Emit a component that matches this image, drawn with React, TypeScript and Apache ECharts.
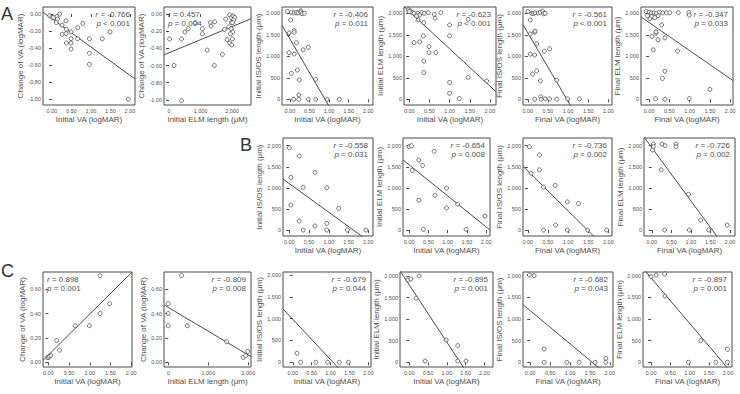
import React, { useEffect, useRef } from "react";
import * as echarts from "echarts";

// ---- tick values ----
const vaTicks = [0, 0.5, 1, 1.5, 2];
const lengthTicks = [0, 500, 1000, 1500, 2000];
const elmTicks = [0, 1000, 2000];
const changeTicksA = [0, -0.2, -0.4, -0.6, -0.8, -1.0];
const changeTicksC = [0, 0.2, 0.4, 0.6];

// ---- panel A: all eyes ----
const a1Points = [[-0.06,-0.02],[0.0,-0.04],[0.04,-0.04],[0.13,-0.03],[0.2,0.0],[0.14,-0.06],[0.11,-0.1],[0.36,-0.08],[0.26,-0.13],[0.37,-0.18],[0.26,-0.24],[0.36,-0.23],[0.49,-0.21],[0.66,-0.16],[0.79,-0.11],[0.37,-0.34],[0.49,-0.29],[0.49,-0.34],[0.49,-0.41],[0.66,-0.29],[0.96,-0.29],[0.96,-0.46],[0.96,-0.59],[1.29,-0.29],[1.49,-0.21],[1.96,-1.0]];
const a2Points = [[20,-0.29],[160,-0.6],[400,-0.29],[505,-0.21],[610,-0.17],[840,-0.1],[1060,-0.17],[1060,-0.23],[1210,-0.42],[1315,-0.1],[1335,-0.14],[1450,-0.09],[1440,-0.6],[1695,-0.47],[1760,-0.18],[1800,-0.06],[1925,-0.01],[1980,-0.04],[2030,-0.02],[2085,-0.04],[2050,-0.07],[1980,-0.1],[1895,-0.15],[1970,-0.17],[2020,-0.21],[1950,-0.23],[2010,-0.29],[1925,-0.34],[1990,-0.36],[1840,-0.3],[2020,-0.1],[400,-1.01]];
const a3Points = [[-0.06,2040],[0.04,2025],[0.11,2010],[0.17,2015],[0.21,2010],[0.28,2060],[0.28,2030],[0.31,1990],[0.37,2000],[0.02,1845],[0.11,1600],[0.11,1560],[-0.02,1540],[0.17,1315],[-0.02,1085],[0.11,1055],[0.34,1150],[0.47,1210],[0.04,605],[0.19,680],[0.24,450],[0.66,465],[0.1,0],[0.23,100],[0.23,0],[0.47,0],[0.66,0],[0.95,0],[1.26,0]];
const a4Points = [[-0.02,2080],[0.03,2055],[0.08,2015],[0.16,1960],[0.21,2000],[0.26,1960],[0.31,2015],[0.37,2000],[0.47,2015],[0.62,1975],[0.78,2015],[0.64,1885],[0.22,1845],[0.36,1785],[0.12,1320],[0.26,1335],[0.35,1475],[0.49,1225],[0.49,1085],[0.36,890],[0.36,620],[0.66,1085],[1.0,1730],[1.0,1475],[1.0,390],[1.0,140],[1.46,510],[1.92,425],[1.24,15],[1.46,1860],[0.0,2040],[0.12,2000],[0.18,1940]];
const a5Points = [[0.0,2040],[0.1,2000],[0.14,2000],[0.18,2010],[0.26,2010],[0.31,2025],[0.37,2050],[0.39,1990],[0.43,2000],[0.06,1845],[0.06,1520],[0.17,1560],[0.18,1585],[0.22,1290],[0.41,1120],[0.54,1175],[0.06,1050],[0.17,1030],[0.12,585],[0.22,660],[0.31,430],[0.72,445],[0.17,0],[0.32,60],[0.33,0],[0.43,10],[0.54,10],[0.72,0],[0.99,10],[1.28,10]];
const a6Points = [[-0.07,2040],[0.0,2025],[0.06,2010],[0.12,2010],[0.18,2000],[0.26,2025],[0.34,2010],[0.43,2010],[0.51,2015],[-0.04,1945],[0.06,1925],[0.14,1900],[0.22,1945],[0.72,2015],[0.98,2020],[0.99,1960],[0.02,1870],[0.31,1730],[0.07,1460],[0.17,1540],[0.17,1570],[0.22,1385],[0.39,1430],[0.1,1150],[0.7,1120],[0.33,485],[0.39,655],[0.16,15],[0.39,0],[0.99,15],[1.5,230]];

// ---- panel B ----
const b3Points = [[0.0,1950],[0.04,1250],[0.04,593],[0.25,1755],[0.35,1012],[0.25,213],[0.35,0],[0.65,1368],[0.65,95],[0.95,1004],[0.95,158],[0.95,0],[1.25,514],[1.47,0],[1.94,0]];
const b4Points = [[0.0,1976],[0.06,2000],[0.08,1412],[0.25,1663],[0.35,1530],[0.25,706],[0.37,16],[0.65,1867],[0.67,824],[0.97,996],[0.97,525],[1.26,612],[1.48,16],[1.97,330]];
const b5Points = [[0.04,1976],[0.08,1349],[0.29,1780],[0.29,1427],[0.39,1020],[0.39,0],[0.68,1059],[0.69,118],[0.98,667],[0.98,0],[1.26,627],[1.49,0],[1.96,0]];
const b6Points = [[0.04,2040],[0.04,1976],[0.26,2040],[0.34,2000],[0.62,2040],[0.62,1976],[0.02,1898],[0.24,1427],[0.33,0],[0.94,847],[0.96,0],[1.25,235],[1.46,0],[1.93,118]];

// ---- panel C ----
const c1Points = [[-0.02,0.04],[0.0,0.04],[0.02,0.05],[0.06,0.055],[0.2,0.18],[0.27,0.1],[0.65,0.3],[0.99,0.3],[1.25,0.4],[1.25,0.71],[1.48,0.48]];
const c2Points = [[0,0.48],[0,0.4],[0,0.3],[333,0.71],[475,0.3],[1458,0.17],[1875,0.04],[1933,0.055],[1983,0.09]];
const c3Points = [[0.11,206],[0.21,0],[0.61,0],[0.92,0],[1.23,0],[1.47,0]];
const c4Points = [[-0.04,1907],[0.04,1931],[0.26,2000],[0.18,1483],[0.42,30],[0.98,517],[1.29,386],[1.29,30],[1.51,30]];
const c5Points = [[-0.02,2015],[0.1,2000],[0.35,308],[0.35,0],[0.92,0],[1.23,0],[1.63,0],[1.9,92],[1.9,0]];
const c6Points = [[0.0,1977],[0.13,2015],[0.35,2040],[0.36,1530],[1.29,500],[0.97,0],[1.68,0],[1.98,300],[1.98,0]];

// fitted lines: [intercept, slope]
const fits = {
  a1: [-0.055, -0.332], a2: [-0.451, 0.000152], a3: [1407, -1571], a4: [2044, -869], a5: [1545, -1596], a6: [1785, -652],
  b3: [1100, -679], b4: [1545, -736], b5: [1399, -945], b6: [1954, -1262],
  c1: [0.06, 0.336], c2: [0.45, -0.000195], c3: [983, -923], c4: [1789, -1323], c5: [1193, -765], c6: [1947, -1047],
};

// correlation labels: [r, p-text]
const stats = {
  a1: ["-0.766", "< 0.001"], a2: ["0.457", "= 0.004"], a3: ["-0.406", "= 0.011"], a4: ["-0.623", "< 0.001"], a5: ["-0.561", "< 0.001"], a6: ["-0.347", "= 0.033"],
  b3: ["-0.558", "= 0.031"], b4: ["-0.654", "= 0.008"], b5: ["-0.736", "= 0.002"], b6: ["-0.726", "= 0.002"],
  c1: ["0.898", "= 0.001"], c2: ["-0.809", "= 0.008"], c3: ["-0.679", "= 0.044"], c4: ["-0.895", "= 0.001"], c5: ["-0.682", "= 0.043"], c6: ["-0.897", "= 0.001"],
};

const initVA = "Initial VA (logMAR)";
const finalVA = "Final VA (logMAR)";
const changeVA = "Change of VA (logMAR)";
const initISOS = "Initial IS/OS length (\u03bcm)";
const initELM = "Initial ELM length (\u03bcm)";
const finalISOS = "Final IS/OS length (\u03bcm)";
const finalELM = "Final ELM length (\u03bcm)";

const FONT = "'Liberation Sans Narrow', 'Arial Narrow', 'Liberation Sans', Arial, sans-serif";
const INK = "#4a4a4a";
const TEXT = "#505050";

const fmtVA = (v: number) => v.toFixed(2);
const fmtLen = (v: number) => v.toLocaleString("en-US");

type Panel = {
  key: string;
  points: number[][];
  box: [number, number, number, number]; // left, top, right, bottom
  x: [number, number];
  y: [number, number];
  xTicks: number[];
  yTicks: number[];
  xFmt: (v: number) => string;
  yFmt: (v: number) => string;
  xName: string;
  yName: string;
  statsLeft?: boolean;
};

const panels: Panel[] = [
  { key: "a1", points: a1Points, box: [43, 7, 135, 105], x: [-0.23, 2.13], y: [-1.067, 0.082], xTicks: vaTicks, yTicks: changeTicksA, xFmt: fmtVA, yFmt: fmtVA, xName: initVA, yName: changeVA },
  { key: "a2", points: a2Points, box: [164, 7, 251, 105], x: [-159, 2603], y: [-1.06, 0.082], xTicks: elmTicks, yTicks: changeTicksA, xFmt: fmtLen, yFmt: fmtVA, xName: "Initial ELM length (\u03bcM)", yName: changeVA, statsLeft: true },
  { key: "a3", points: a3Points, box: [282, 7, 373, 105], x: [-0.2, 2.12], y: [-133, 2147], xTicks: vaTicks, yTicks: lengthTicks, xFmt: fmtVA, yFmt: fmtLen, xName: initVA, yName: initISOS },
  { key: "a4", points: a4Points, box: [404, 7, 496, 105], x: [-0.13, 2.15], y: [-133, 2147], xTicks: vaTicks, yTicks: lengthTicks, xFmt: fmtVA, yFmt: fmtLen, xName: initVA, yName: initELM },
  { key: "a5", points: a5Points, box: [523, 7, 612, 105], x: [-0.12, 2.09], y: [-133, 2147], xTicks: vaTicks, yTicks: lengthTicks, xFmt: fmtVA, yFmt: fmtLen, xName: finalVA, yName: finalISOS },
  { key: "a6", points: a6Points, box: [641, 7, 733, 105], x: [-0.2, 2.07], y: [-133, 2147], xTicks: vaTicks, yTicks: lengthTicks, xFmt: fmtVA, yFmt: fmtLen, xName: finalVA, yName: finalELM },

  { key: "b3", points: b3Points, box: [283, 138, 373, 236], x: [-0.16, 2.12], y: [-142, 2183], xTicks: vaTicks, yTicks: lengthTicks, xFmt: fmtVA, yFmt: fmtLen, xName: initVA, yName: initISOS },
  { key: "b4", points: b4Points, box: [403, 138, 490, 236], x: [-0.16, 2.1], y: [-142, 2183], xTicks: vaTicks, yTicks: lengthTicks, xFmt: fmtVA, yFmt: fmtLen, xName: initVA, yName: initELM },
  { key: "b5", points: b5Points, box: [523, 138, 612, 236], x: [-0.12, 2.09], y: [-142, 2183], xTicks: vaTicks, yTicks: lengthTicks, xFmt: fmtVA, yFmt: fmtLen, xName: finalVA, yName: finalISOS },
  { key: "b6", points: b6Points, box: [644, 138, 735, 236], x: [-0.2, 2.13], y: [-142, 2183], xTicks: vaTicks, yTicks: lengthTicks, xFmt: fmtVA, yFmt: fmtLen, xName: finalVA, yName: finalELM },

  { key: "c1", points: c1Points, box: [43, 272, 132, 367], x: [-0.13, 2.02], y: [-0.038, 0.74], xTicks: vaTicks, yTicks: changeTicksC, xFmt: fmtVA, yFmt: fmtVA, xName: initVA, yName: changeVA, statsLeft: true },
  { key: "c2", points: c2Points, box: [164, 272, 251, 367], x: [-107, 2067], y: [-0.038, 0.74], xTicks: elmTicks, yTicks: changeTicksC, xFmt: fmtLen, yFmt: fmtVA, xName: initELM, yName: changeVA },
  { key: "c3", points: c3Points, box: [283, 272, 371, 367], x: [-0.26, 2.07], y: [-108, 2069], xTicks: vaTicks, yTicks: lengthTicks, xFmt: fmtVA, yFmt: fmtLen, xName: initVA, yName: initISOS },
  { key: "c4", points: c4Points, box: [400, 272, 493, 367], x: [-0.25, 2.23], y: [-109, 2093], xTicks: vaTicks, yTicks: lengthTicks, xFmt: fmtVA, yFmt: fmtLen, xName: initVA, yName: initELM },
  { key: "c5", points: c5Points, box: [523, 272, 613, 367], x: [-0.18, 2.08], y: [-108, 2085], xTicks: vaTicks, yTicks: lengthTicks, xFmt: fmtVA, yFmt: fmtLen, xName: finalVA, yName: finalISOS },
  { key: "c6", points: c6Points, box: [643, 272, 732, 367], x: [-0.21, 2.1], y: [-108, 2085], xTicks: vaTicks, yTicks: lengthTicks, xFmt: fmtVA, yFmt: fmtLen, xName: finalVA, yName: finalELM },
];

function buildOption() {
  const grid: any[] = [];
  const xAxis: any[] = [];
  const yAxis: any[] = [];
  const series: any[] = [];
  const graphic: any[] = [];

  panels.forEach((p, i) => {
    const [l, t, r, b] = p.box;
    grid.push({ left: l, top: t, width: r - l, height: b - t, show: true, borderColor: INK, borderWidth: 1, backgroundColor: "transparent" });
    const tickStyle = { color: INK, width: 1 };
    const labelStyle = { fontFamily: FONT, fontSize: 5.5, color: TEXT };
    xAxis.push({
      type: "value", gridIndex: i, min: p.x[0], max: p.x[1],
      name: p.xName, nameLocation: "middle", nameGap: 10,
      nameTextStyle: { fontFamily: FONT, fontSize: 8, color: TEXT },
      axisLine: { show: false },
      axisTick: { show: true, inside: false, length: 3, customValues: p.xTicks, lineStyle: tickStyle },
      axisLabel: { customValues: p.xTicks, formatter: p.xFmt, margin: 3, ...labelStyle },
      splitLine: { show: false },
    });
    yAxis.push({
      type: "value", gridIndex: i, min: p.y[0], max: p.y[1],
      name: p.yName, nameLocation: "middle", nameGap: 15, nameRotate: 90,
      nameTextStyle: { fontFamily: FONT, fontSize: 8, color: TEXT },
      axisLine: { show: false },
      axisTick: { show: true, inside: false, length: 3, customValues: p.yTicks, lineStyle: tickStyle },
      axisLabel: { customValues: p.yTicks, formatter: p.yFmt, margin: 2, ...labelStyle },
      splitLine: { show: false },
    });
    const [a, s] = (fits as any)[p.key];
    series.push({
      type: "line", xAxisIndex: i, yAxisIndex: i, clip: true, symbol: "none", silent: true,
      data: [[p.x[0], a + s * p.x[0]], [p.x[1], a + s * p.x[1]]],
      lineStyle: { color: INK, width: 1 }, z: 2,
    });
    series.push({
      type: "scatter", xAxisIndex: i, yAxisIndex: i, data: p.points, symbol: "circle", symbolSize: 4,
      itemStyle: { color: "#fff", borderColor: "#3a3a3a", borderWidth: 0.9 }, z: 3,
    });
    const [rv, pv] = (stats as any)[p.key];
    const common = { fontFamily: FONT, fontSize: 8, fill: TEXT, rich: { i: { fontStyle: "italic", fontFamily: FONT, fontSize: 8, fill: TEXT } } };
    const tx = p.statsLeft ? l + 4 : r - 5;
    const align = p.statsLeft ? "left" : "right";
    graphic.push({ type: "text", x: tx, y: t + 3, style: { ...common, text: "{i|r} = " + rv, align, verticalAlign: "top" }, z: 10 });
    graphic.push({ type: "text", x: tx, y: t + 12, style: { ...common, text: "{i|p} " + pv, align, verticalAlign: "top" }, z: 10 });
  });

  const letter = { fontFamily: "'Liberation Sans', Arial, sans-serif", fontSize: 18, fill: "#333" };
  graphic.push({ type: "text", x: 1, y: 5, style: { ...letter, text: "A" } });
  graphic.push({ type: "text", x: 240, y: 136, style: { ...letter, text: "B" } });
  graphic.push({ type: "text", x: 1, y: 262, style: { ...letter, text: "C" } });

  return { animation: false, backgroundColor: "#fff", grid, xAxis, yAxis, series, graphic };
}

export default function App() {
  const ref = useRef<HTMLDivElement>(null);
  useEffect(() => {
    if (!ref.current) return;
    const chart = echarts.init(ref.current, undefined, { renderer: "svg" });
    chart.setOption(buildOption() as any);
    return () => chart.dispose();
  }, []);
  return <div ref={ref} style={{ position: "absolute", left: 0, top: 0, width: 740, height: 394, background: "#fff" }} />;
}
